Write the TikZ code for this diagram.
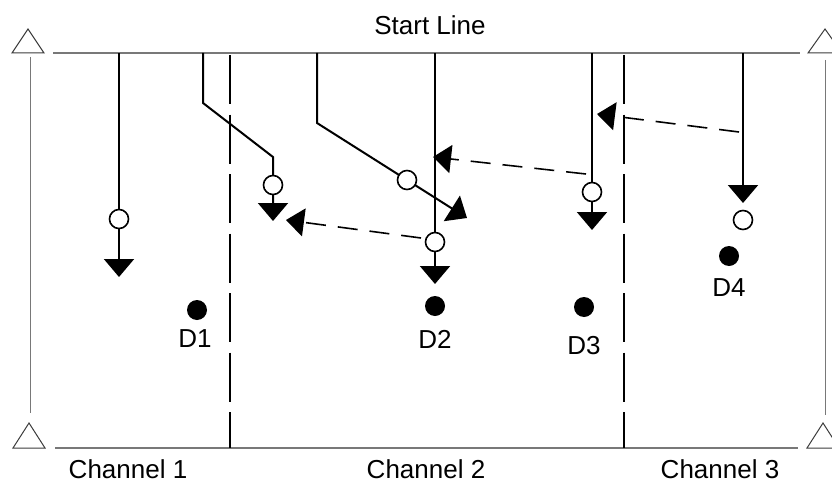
\documentclass[tikz,border=0pt]{standalone}
\usepackage{fontspec}
\setmainfont{Liberation Sans}
\usetikzlibrary{arrows.meta,calc}
\definecolor{railgray}{RGB}{120,120,120}
\definecolor{markgray}{RGB}{60,60,60}
\begin{document}
\begin{tikzpicture}[x=1pt,y=-1pt,
  traj/.style={line width=2pt, -{Triangle[length=18pt,width=30pt]}},
  move/.style={line width=1.6pt, dash pattern=on 20pt off 12pt, -{Triangle[length=18pt,width=28pt]}},
  divider/.style={line width=2pt, dash pattern=on 49pt off 10.5pt},
  rail/.style={line width=2pt, draw=railgray},
  side/.style={line width=1pt, draw=railgray},
  marker/.style={line width=1pt, draw=markgray, fill=white},
  ring/.style={circle, draw, fill=white, line width=1.6pt, minimum size=19pt, inner sep=0pt},
  dot/.style={circle, fill=black, minimum size=20pt, inner sep=0pt},
  lbl/.style={font=\fontsize{26}{31}\selectfont, anchor=base, inner sep=0pt}]
\useasboundingbox (0,0) rectangle (832,487);
\clip (0,0) rectangle (832,487);

% rails
\draw[rail] (53,53) -- (800,53);
\draw[rail] (55,448) -- (798,448);
\draw[side] (30,57) -- (30,413);
\draw[side] (825,60) -- (825,415);
% corner markers
\draw[marker] (12,53) -- (28,29) -- (44,53) -- cycle;
\draw[marker] (13,448) -- (29,423) -- (45,448) -- cycle;
\draw[marker] (808,53) -- (825,29) -- (842,53) -- cycle;
\draw[marker] (807,448) -- (823,423) -- (839,448) -- cycle;

% channel dividers
\draw[divider] (230,55) -- (230,448);
\draw[divider] (624,55) -- (624,448);

% texts
\node[lbl] (start) at (430,35) {Start Line};
\node[lbl] (ch1) at (128,478) {Channel 1};
\node[lbl] (ch2) at (426,478) {Channel 2};
\node[lbl] (ch3) at (720,478) {Channel 3};

% trajectory start points and ends
\coordinate (s1) at (119,53);
\coordinate (e1) at (119,277);
\coordinate (s2) at (203,53);
\coordinate (b2a) at (203,103);
\coordinate (b2b) at (273,157);
\coordinate (e2) at (273,221);
\coordinate (s3) at (317,53);
\coordinate (b3) at (317,123);
\coordinate (e3) at (467,218);
\coordinate (s4) at (435,53);
\coordinate (e4) at (435,284);
\coordinate (s5) at (592,53);
\coordinate (e5) at (592,230);
\coordinate (s6) at (743,53);
\coordinate (e6) at (743,203);

\draw[traj] (s1) -- (e1);
\draw[traj] (s2) -- (b2a) -- (b2b) -- (e2);
\draw[traj] (s3) -- (b3) -- (e3);
\draw[traj] (s4) -- (e4);
\draw[traj] (s5) -- (e5);
\draw[traj] (s6) -- (e6);

% circles
\node[ring] (c1) at (119,219) {};
\node[ring] (c2) at (273,185) {};
\node[ring] (c3) at ($(b3)!0.6!(e3)$) {};
\node[ring] (c4) at (435,242) {};
\node[ring] (c5) at (592,192) {};
\node[ring] (c6) at (743,220) {};

% movement arrows
\coordinate (m1s) at (421,238);
\coordinate (m1e) at (286,220);
\coordinate (m2s) at (586,174);
\coordinate (m2e) at (433,157);
\coordinate (m3s) at (739,132);
\coordinate (m3e) at (597,114);
\draw[move] (m1s) -- (m1e);
\draw[move] (m2s) -- (m2e);
\draw[move] (m3s) -- (m3e);

% detectors
\node[dot] (d1) at (197,310) {};
\node[dot] (d2) at (435,306) {};
\node[dot] (d3) at (584,307) {};
\node[dot] (d4) at (729,256) {};
\node[lbl] (ld1) at (195,347) {D1};
\node[lbl] (ld2) at (435,348) {D2};
\node[lbl] (ld3) at (584,354) {D3};
\node[lbl] (ld4) at (729,296) {D4};
\end{tikzpicture}
\end{document}
